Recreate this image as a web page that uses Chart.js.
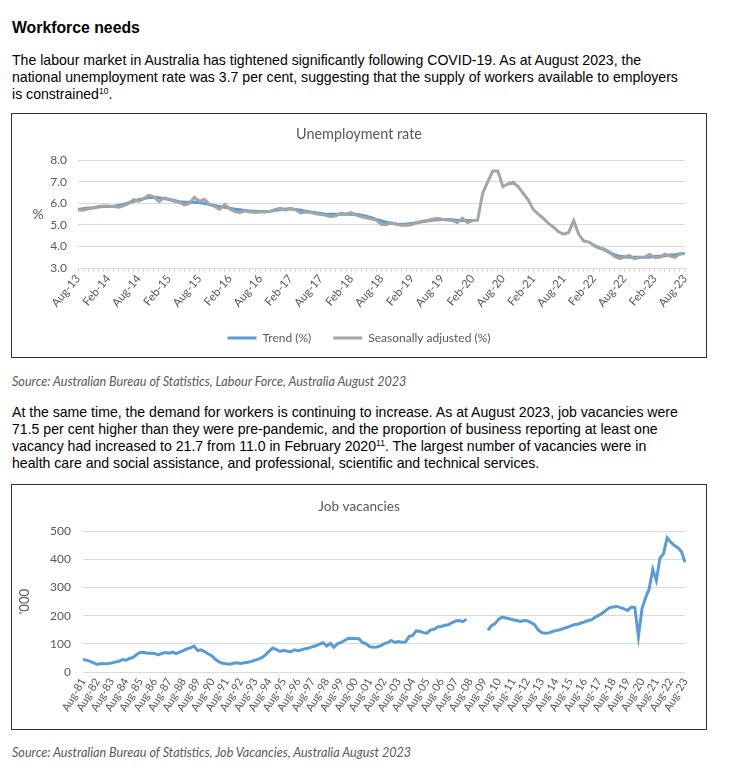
<!DOCTYPE html>
<html>
<head>
<meta charset="utf-8">
<script src="https://cdn.jsdelivr.net/npm/chart.js@4.4.0/dist/chart.umd.min.js"></script>
<style>
  body { margin: 0; background: #fff; width: 737px; height: 774px; position: relative; overflow: hidden;
         font-family: "Liberation Sans", Arial, sans-serif; color: #000; }
  .abs { position: absolute; left: 12px; white-space: nowrap; margin: 0; }
  .head { top: 19px; font-size: 15.8px; font-weight: bold; line-height: 18px; }
  .para { font-size: 14.1px; line-height: 17px; }
  .src { font-family: Lato, sans-serif; font-style: italic; font-size: 12.6px; color: #595959; line-height: 14px; }
  .box { position: absolute; left: 11px; width: 694px; border: 1px solid #333; }
  .wrap { position: absolute; left: 0; top: 0; width: 694px; }
  sup { font-size: 8.5px; line-height: 0; vertical-align: 5px; }
</style>
</head>
<body>

<div class="abs head">Workforce needs</div>
<div class="abs para" style="top:52px">The labour market in Australia has tightened significantly following COVID-19. As at August 2023, the<br>national unemployment rate was 3.7 per cent, suggesting that the supply of workers available to employers<br>is constrained<sup>10</sup>.</div>

<div class="box" style="top:113px;height:243px">
  <div class="wrap" style="height:240px"><canvas id="unempChart"></canvas></div>
</div>

<div class="abs src" style="top:375px">Source: Australian Bureau of Statistics, Labour Force, Australia August 2023</div>

<div class="abs para" style="top:404px">At the same time, the demand for workers is continuing to increase. As at August 2023, job vacancies were<br>71.5 per cent higher than they were pre-pandemic, and the proportion of business reporting at least one<br>vacancy had increased to 21.7 from 11.0 in February 2020<sup>11</sup>. The largest number of vacancies were in<br>health care and social assistance, and professional, scientific and technical services.</div>

<div class="box" style="top:484px;height:244px">
  <div class="wrap" style="height:244px"><canvas id="vacChart"></canvas></div>
</div>

<div class="abs src" style="top:746px">Source: Australian Bureau of Statistics, Job Vacancies, Australia August 2023</div>

<script>
// Unemployment rate, monthly Aug-13 to Aug-23 (%)
var trend = [
    5.72, 5.75, 5.78, 5.80, 5.83,                                         // 2013 Aug-Dec
    5.85, 5.86, 5.87, 5.90, 5.95, 6.02, 6.10, 6.17, 6.22, 6.27, 6.28, 6.26, // 2014
    6.22, 6.18, 6.13, 6.08, 6.05, 6.05, 6.05, 6.03, 6.00, 5.95, 5.90, 5.85, // 2015
    5.82, 5.78, 5.73, 5.70, 5.67, 5.65, 5.63, 5.62, 5.62, 5.64, 5.68, 5.72, // 2016
    5.74, 5.74, 5.72, 5.68, 5.64, 5.60, 5.56, 5.53, 5.50, 5.50, 5.50, 5.50, // 2017
    5.50, 5.50, 5.49, 5.45, 5.40, 5.33, 5.26, 5.18, 5.12, 5.07, 5.04, 5.03, // 2018
    5.04, 5.07, 5.10, 5.14, 5.18, 5.22, 5.24, 5.25, 5.25, 5.24, 5.22, 5.21, // 2019
    5.20, 5.20, null, null, null, null, null, null, null, null, null, null, // 2020
    null, null, null, null, null, null, null, null, null, null, null, null, // 2021
    null, 4.05, 3.95, 3.85, 3.72, 3.62, 3.55, 3.52, 3.50, 3.50, 3.50, 3.50, // 2022
    3.51, 3.53, 3.55, 3.57, 3.60, 3.62, 3.65, 3.67                        // 2023 Jan-Aug
];
var seasAdj = [
    5.70, 5.68, 5.75, 5.78, 5.85,
    5.88, 5.88, 5.86, 5.82, 5.88, 6.00, 6.17, 6.10, 6.22, 6.38, 6.30, 6.08,
    6.26, 6.20, 6.10, 6.05, 5.93, 6.00, 6.28, 6.10, 6.18, 5.95, 5.86, 5.72,
    5.95, 5.74, 5.62, 5.58, 5.65, 5.60, 5.58, 5.60, 5.60, 5.62, 5.72, 5.77,
    5.69, 5.77, 5.70, 5.56, 5.60, 5.58, 5.52, 5.48, 5.45, 5.38, 5.42, 5.55,
    5.50, 5.57, 5.46, 5.38, 5.33, 5.27, 5.22, 5.02, 5.02, 5.10, 5.03, 4.98,
    4.98, 5.02, 5.11, 5.17, 5.20, 5.26, 5.31, 5.26, 5.23, 5.20, 5.11, 5.31,
    5.11, 5.20, 5.22, 6.47, 7.00, 7.50, 7.50, 6.78, 6.90, 6.98, 6.78, 6.47,
    6.16, 5.72, 5.50, 5.30, 5.07, 4.90, 4.68, 4.57, 4.65, 5.20, 4.55, 4.25,
    4.20, 4.05, 3.92, 3.88, 3.75, 3.55, 3.43, 3.50, 3.58, 3.43, 3.49, 3.49,
    3.64, 3.49, 3.50, 3.64, 3.55, 3.49, 3.67, 3.67
];

// Job vacancies, quarterly Aug-81 to Aug-23 ('000), each row Aug, Nov, Feb, May
var vacancies = [
    45, 42, 38, 32,      // 81-82
    27, 30, 29, 30,
    32, 35, 38, 44,
    42, 48, 52, 62,
    70, 69, 67, 67,      // 85-86
    66, 61, 66, 69,
    67, 71, 65, 71,
    76, 82, 86, 92,
    76, 79, 72, 64,
    57, 44, 36, 31,      // 90-91
    29, 28, 31, 33,
    30, 33, 35, 37,
    42, 46, 52, 62,
    75, 85, 80, 73,
    77, 74, 72, 79,      // 95-96
    76, 79, 83, 85,
    90, 93, 99, 104,
    92, 102, 88, 100,
    105, 112, 120, 119,
    119, 118, 105, 100,  // 00-01
    90, 88, 89, 93,
    100, 104, 112, 105,
    108, 106, 107, 126,
    130, 146, 145, 140,
    138, 150, 152, 160,  // 05-06
    162, 166, 168, 176,
    181, 183, 179, 188,
    null, null, null, null, // survey suspended
    null, 148, 165, 172,
    188, 195, 192, 189,  // 10-11
    186, 183, 180, 183,
    182, 176, 168, 150,
    140, 138, 139, 144,
    147, 150, 154, 158,
    163, 168, 170, 174,  // 15-16
    178, 183, 186, 195,
    202, 210, 220, 229,
    231, 233, 229, 224,
    219, 231, 229, 126,
    225, 264, 296, 365,  // 20-21
    325, 405, 420, 477,
    462, 450, 442, 428,
    390                  // Aug-23
];

var unempTicks = [3, 4, 5, 6, 7, 8];
var vacTicks = [0, 100, 200, 300, 400, 500];

function monthLabels(startMonth, startYear, count, step) {
    var names = ['Jan','Feb','Mar','Apr','May','Jun','Jul','Aug','Sep','Oct','Nov','Dec'];
    var out = [];
    for (var i = 0; i < count; i++) {
        var m = startMonth + i * step;
        var y = startYear + Math.floor(m / 12);
        out.push(names[m % 12] + '-' + String(y % 100).padStart(2, '0'));
    }
    return out;
}
var unempLabels = monthLabels(7, 2013, seasAdj.length, 1);
var vacLabels = monthLabels(7, 1981, vacancies.length, 3);

var grey = '#595959';
var gridCol = '#d9d9d9';
var font = 'Lato';

// spacer axis so the title and legend centre on the whole box
var spacer = {
    position: 'right', display: true,
    grid: { display: false }, ticks: { display: false }, border: { display: false },
    afterFit: function(s) { s.width = 21; }
};

var percentLabel = {
    id: 'percentLabel',
    afterDraw: function(chart) {
        var ctx = chart.ctx, a = chart.chartArea;
        ctx.save();
        ctx.fillStyle = grey;
        ctx.font = '14px Lato';
        ctx.textAlign = 'center';
        ctx.textBaseline = 'middle';
        ctx.fillText('%', 26, (a.top + a.bottom) / 2);
        ctx.restore();
    }
};

new Chart(document.getElementById('unempChart'), {
    type: 'line',
    data: {
        labels: unempLabels,
        datasets: [{
            label: 'Trend (%)',
            data: trend,
            borderColor: '#5b9bd5',
            backgroundColor: '#5b9bd5',
            borderWidth: 3,
            pointRadius: 0,
            order: 2
        }, {
            label: 'Seasonally adjusted (%)',
            data: seasAdj,
            borderColor: '#a5a5a5',
            backgroundColor: '#a5a5a5',
            borderWidth: 3,
            pointRadius: 0,
            order: 1
        }]
    },
    options: {
        animation: false,
        responsive: true,
        maintainAspectRatio: false,
        layout: { padding: 0 },
        plugins: {
            title: {
                display: true,
                text: 'Unemployment rate',
                color: grey,
                font: { family: font, size: 14.4, weight: 'normal' },
                padding: { top: 12, bottom: 17 }
            },
            legend: {
                position: 'bottom',
                labels: {
                    color: grey,
                    font: { family: font, size: 12 },
                    boxWidth: 29,
                    boxHeight: 3,
                    padding: 22,
                    sort: function(a, b) { return a.datasetIndex - b.datasetIndex; },
                    generateLabels: function(chart) {
                        var items = Chart.defaults.plugins.legend.labels.generateLabels(chart);
                        items.forEach(function(it) { it.lineWidth = 0; it.fillStyle = it.strokeStyle; });
                        return items;
                    }
                }
            },
            tooltip: { enabled: false }
        },
        scales: {
            x: {
                grid: { display: true, drawOnChartArea: false, drawTicks: true, tickLength: 4, color: gridCol },
                border: { display: true, color: gridCol },
                ticks: {
                    autoSkip: false, maxRotation: 50, minRotation: 50, padding: 0,
                    color: grey, font: { family: font, size: 11.5 },
                    callback: function(v, i) { return i % 6 === 0 ? this.getLabelForValue(v) : ''; }
                },
                afterFit: function(s) { s.height = 42; }
            },
            y: {
                min: 3, max: 8,
                afterBuildTicks: function(s) { s.ticks = unempTicks.map(function(v) { return { value: v }; }); },
                grid: { color: gridCol, drawTicks: false },
                border: { display: false },
                ticks: {
                    padding: 11, color: grey, font: { family: font, size: 12 },
                    callback: function(v) { return v.toFixed(1); }
                },
                afterFit: function(s) { s.width = 66; }
            },
            yr: spacer
        }
    },
    plugins: [percentLabel]
});

new Chart(document.getElementById('vacChart'), {
    type: 'line',
    data: {
        labels: vacLabels,
        datasets: [{
            label: 'Job vacancies',
            data: vacancies,
            borderColor: '#5b9bd5',
            backgroundColor: '#5b9bd5',
            borderWidth: 3,
            pointRadius: 0,
            spanGaps: false
        }]
    },
    options: {
        animation: false,
        responsive: true,
        maintainAspectRatio: false,
        layout: { padding: 0 },
        plugins: {
            title: {
                display: true,
                text: 'Job vacancies',
                color: grey,
                font: { family: font, size: 13.6, weight: 'normal' },
                padding: { top: 13, bottom: 17 }
            },
            legend: { display: false },
            tooltip: { enabled: false }
        },
        scales: {
            x: {
                grid: { display: false, drawTicks: false },
                border: { display: false },
                ticks: {
                    autoSkip: false, maxRotation: 60, minRotation: 60, padding: 4,
                    color: grey, font: { family: font, size: 11 },
                    callback: function(v, i) { return i % 4 === 0 ? this.getLabelForValue(v) : ''; }
                },
                afterFit: function(s) { s.height = 57; }
            },
            y: {
                min: 0, max: 500,
                afterBuildTicks: function(s) { s.ticks = vacTicks.map(function(v) { return { value: v }; }); },
                grid: { color: gridCol, drawTicks: false },
                border: { display: false },
                title: { display: true, text: "'000", color: grey, font: { family: font, size: 13 }, padding: { top: 5, bottom: 4 } },
                ticks: { padding: 12, color: grey, font: { family: font, size: 12 } },
                afterFit: function(s) { s.width = 71; }
            },
            yr: spacer
        }
    }
});
</script>
</body>
</html>
